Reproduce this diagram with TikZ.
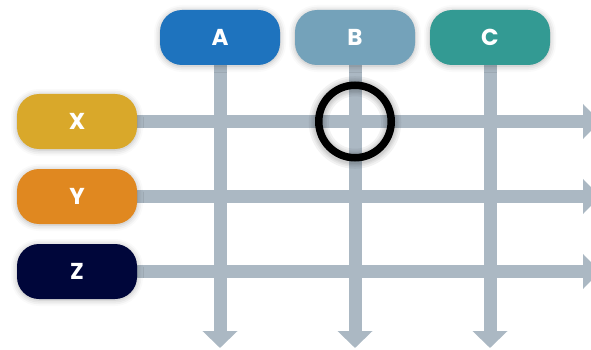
\documentclass[tikz,border=0pt]{standalone}
\usepackage{fontspec}
\setmainfont{Poppins}
\usetikzlibrary{arrows.meta,shadows.blur}
\pgfdeclarelayer{background}
\pgfsetlayers{background,main}
\definecolor{barcol}{HTML}{ABB8C3}
\definecolor{colA}{HTML}{1E73BE}
\definecolor{colB}{HTML}{74A2BA}
\definecolor{colC}{HTML}{339A93}
\definecolor{colX}{HTML}{D9A82A}
\definecolor{colY}{HTML}{E08820}
\definecolor{colZ}{HTML}{00063A}
\tikzset{
  label box/.style={rectangle, rounded corners=22pt, minimum width=120pt,
    minimum height=55pt, inner sep=0pt, text=white,
    font=\fontsize{23}{23}\selectfont\bfseries,
    blur shadow={shadow xshift=0pt, shadow yshift=-1pt,
      shadow blur radius=6pt, shadow opacity=30}},
  flow bar/.style={draw=barcol, line width=13pt,
    -{Triangle[width=34pt,length=17pt]}},
  ring/.style={circle, draw=black, line width=7.5pt, minimum size=72.5pt,
    inner sep=0pt},
  ring halo/.style={draw=black, opacity=0.05}
}
\begin{document}
\begin{tikzpicture}[x=1pt,y=-1pt]
  \useasboundingbox (0,0) rectangle (591,350);
  \clip (0,0) rectangle (591,350);
  % column headers and row headers
  \path
    node[label box, fill=colA] (a) at (220,37.5) {A}
    node[label box, fill=colB] (b) at (355,37.5) {B}
    node[label box, fill=colC] (c) at (490,37.5) {C}
    node[label box, fill=colX] (x) at (77,121.5) {X}
    node[label box, fill=colY] (y) at (77,196.5) {Y}
    node[label box, fill=colZ] (z) at (77,271.5) {Z};
  % arrow ends
  \coordinate (a-end) at (220,348);
  \coordinate (b-end) at (355,348);
  \coordinate (c-end) at (490,348);
  \coordinate (x-end) at (600,121.5);
  \coordinate (y-end) at (600,196.5);
  \coordinate (z-end) at (600,271.5);
  % grid of arrows, beneath the boxes
  \begin{pgfonlayer}{background}
    \draw[flow bar] (x.east) -- (x-end);
    \draw[flow bar] (y.east) -- (y-end);
    \draw[flow bar] (z.east) -- (z-end);
    \draw[flow bar] (a.south) -- (a-end);
    \draw[flow bar] (b.south) -- (b-end);
    \draw[flow bar] (c.south) -- (c-end);
  \end{pgfonlayer}
  % highlighted crossing with a soft halo
  \coordinate (focus-c) at (355,122.5);
  \foreach \w in {20,16,13,10.5} {
    \draw[ring halo, line width=\w pt] (focus-c) circle[radius=36.25];
  }
  \node[ring] (focus) at (355,121.5) {};
\end{tikzpicture}
\end{document}
